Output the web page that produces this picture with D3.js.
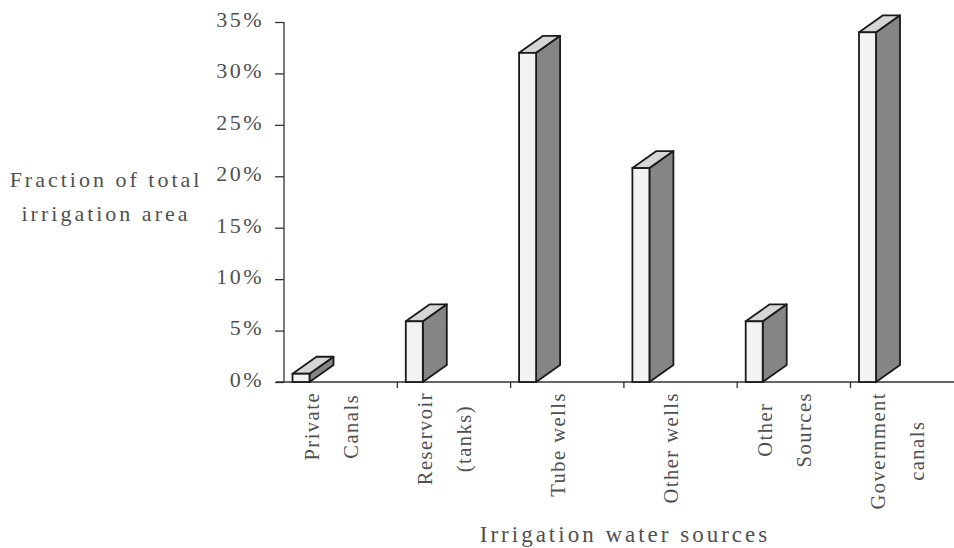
<!DOCTYPE html>
<meta charset="utf-8">

<!-- Load d3.js -->
<script src="https://d3js.org/d3.v7.min.js"></script>

<style>
  body { margin: 0; background: #fff; }
  text { font-family: "Liberation Serif", "DejaVu Serif", serif; fill: #505050; }
</style>

<!-- Create a div where the graph will take place -->
<div id="irrigation-chart"></div>

<script>

        // data
        var categories = ["Private Canals", "Reservoir (tanks)", "Tube wells", "Other wells", "Other Sources", "Government canals"];
        var labelLines = [["Private", "Canals"], ["Reservoir", "(tanks)"], ["Tube wells"], ["Other wells"], ["Other", "Sources"], ["Government", "canals"]];
        var shares = [0.8, 5.9, 32, 20.8, 5.9, 34];
        var yTicks = [0, 5, 10, 15, 20, 25, 30, 35];
        var yTitle = ["Fraction of total", "irrigation area"];
        var xTitle = "Irrigation water sources";

        var W = 954, H = 548;

        // append the svg object to the body of the page
        var svg = d3.select("#irrigation-chart")
          .append("svg")
            .attr("width", W)
            .attr("height", H);

        var x0 = 284, y0 = 382, yTop = 22;

        // X scale: one band per water source
        var x = d3.scaleBand()
          .domain(categories)
          .range([x0, x0 + 6 * 113.3])
          .padding(0);

        // Y scale in percent
        var y = d3.scaleLinear()
          .domain([0, 35])
          .range([y0, yTop]);

        // Y axis
        var yAxis = svg.append("g")
          .attr("transform", "translate(" + x0 + ",0)")
          .call(d3.axisLeft(y).tickValues(yTicks).tickSize(9).tickPadding(11)
            .tickFormat(function(d) { return d + "%"; }));
        yAxis.select(".domain").attr("stroke", "#333").attr("stroke-width", 1.3).attr("d", "M0," + yTop + "V" + y0);
        yAxis.selectAll(".tick line").attr("stroke", "#333").attr("stroke-width", 1.3);
        yAxis.selectAll(".tick text")
          .style("font-size", "22px")
          .style("letter-spacing", "2.5px")
          .style("font-family", "Liberation Serif")
          .attr("fill", "#505050")
          .attr("dy", "0.2em");

        // X axis line and separators between categories
        svg.append("line")
          .attr("x1", x0 - 8).attr("x2", W)
          .attr("y1", y0).attr("y2", y0)
          .attr("stroke", "#333").attr("stroke-width", 1.3);
        svg.selectAll(".sep")
          .data(categories.slice(1))
          .enter().append("line")
            .attr("x1", function(d) { return x(d); })
            .attr("x2", function(d) { return x(d); })
            .attr("y1", y0).attr("y2", y0 + 6)
            .attr("stroke", "#333").attr("stroke-width", 1.3);

        // 3D bars: front face, side face, top face
        var bw = 17, dx = 24, dy = 17, off = 8.5;
        var bars = svg.selectAll(".bar")
          .data(shares)
          .enter().append("g");

        bars.append("polygon")
          .attr("points", function(d, i) {
            var l = x(categories[i]) + off + bw, t = y(d);
            return [[l, t], [l + dx, t - dy], [l + dx, y0 - dy], [l, y0]].join(" ");
          })
          .attr("fill", "#858585").attr("stroke", "#1a1a1a").attr("stroke-width", 1.8)
          .attr("stroke-linejoin", "round");

        bars.append("polygon")
          .attr("points", function(d, i) {
            var l = x(categories[i]) + off, t = y(d);
            return [[l, t], [l + dx, t - dy], [l + bw + dx, t - dy], [l + bw, t]].join(" ");
          })
          .attr("fill", "#d6d6d6").attr("stroke", "#1a1a1a").attr("stroke-width", 1.8)
          .attr("stroke-linejoin", "round");

        bars.append("rect")
          .attr("x", function(d, i) { return x(categories[i]) + off; })
          .attr("y", function(d) { return y(d); })
          .attr("width", bw)
          .attr("height", function(d) { return y0 - y(d); })
          .attr("fill", "#f3f3f3").attr("stroke", "#1a1a1a").attr("stroke-width", 1.8);

        // rotated category labels, block centred under each band
        labelLines.forEach(function(lines, i) {
          var g = svg.append("g");
          var cx = x(categories[i]) + 47;
          var texts = lines.map(function(s, j) {
            return g.append("text")
              .attr("text-anchor", "middle")
              .attr("dy", "0.35em")
              .style("font-size", "20.5px")
              .style("letter-spacing", "1.5px")
              .text(s)
              .datum(cx + (j - (lines.length - 1) / 2) * 39);
          });
          var maxLen = d3.max(texts, function(t) { return t.node().getComputedTextLength(); });
          var cy = 392 + maxLen / 2;
          texts.forEach(function(t) {
            t.attr("transform", "translate(" + t.datum() + "," + cy + ") rotate(-90)");
          });
        });

        // axis titles
        svg.selectAll(".ytitle")
          .data(yTitle)
          .enter().append("text")
            .attr("x", 106)
            .attr("y", function(d, i) { return 187 + i * 34; })
            .attr("text-anchor", "middle")
            .style("font-size", "22px")
            .style("letter-spacing", "3px")
            .text(function(d) { return d; });

        svg.append("text")
          .attr("x", 625)
          .attr("y", 542)
          .attr("text-anchor", "middle")
          .style("font-size", "23px")
          .style("letter-spacing", "3px")
          .text(xTitle);

</script>
